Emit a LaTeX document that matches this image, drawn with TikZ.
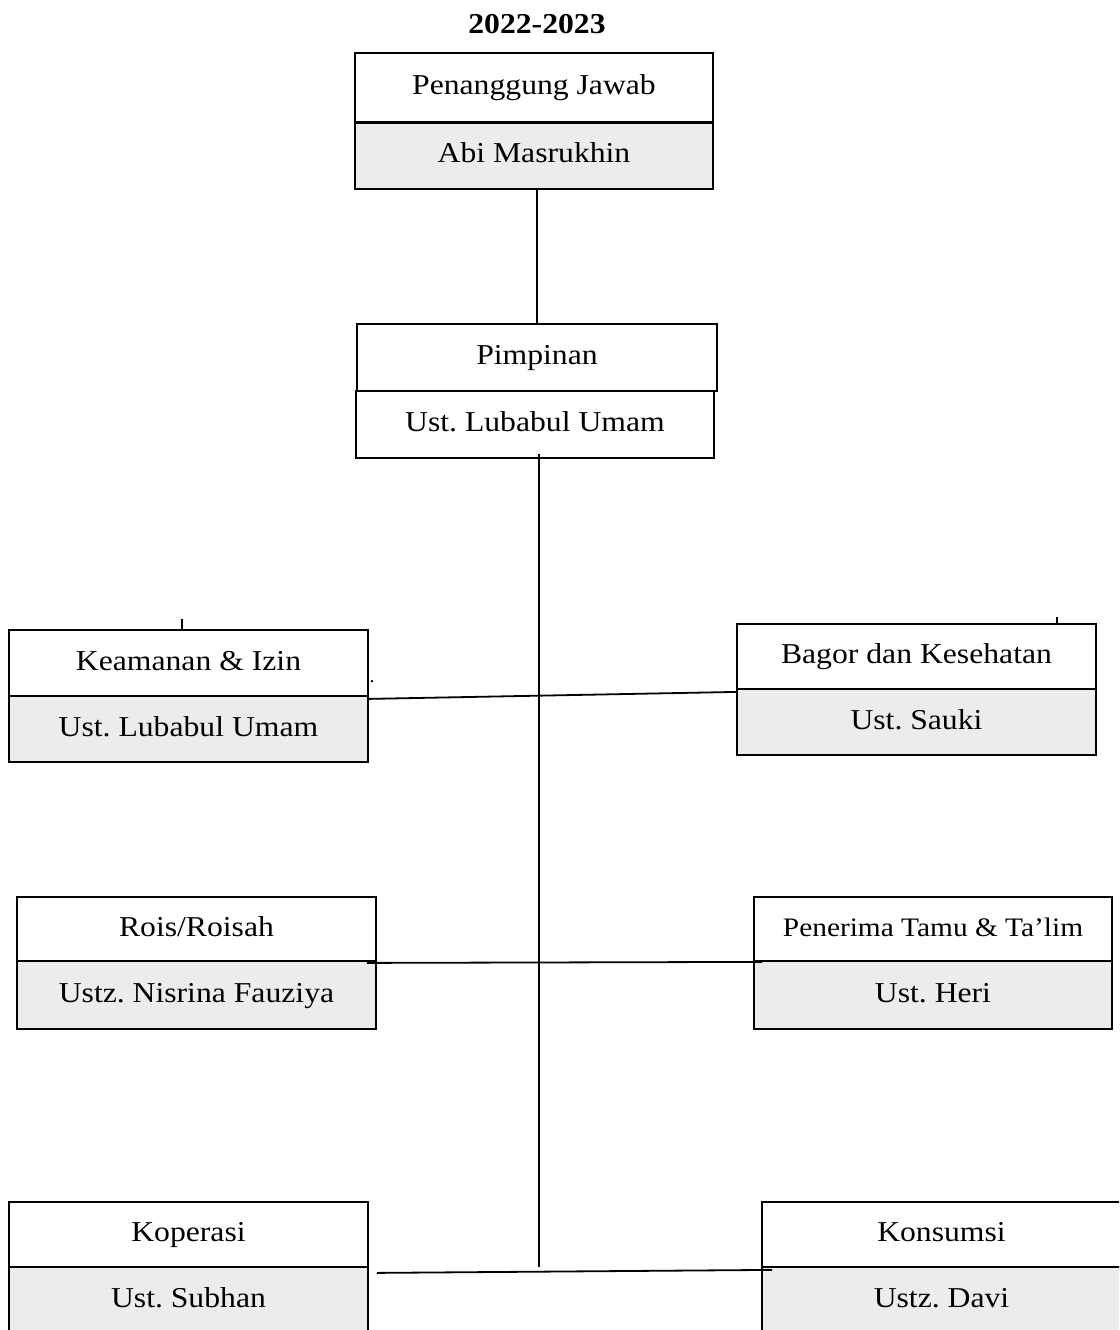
\documentclass[tikz,border=0pt]{standalone}
\usepackage{fontspec}
\setmainfont{Liberation Serif}[FakeStretch=1.1]
\definecolor{cellgray}{RGB}{236,236,236}
\frenchspacing
\tikzset{
  cell/.style={draw, line width=1.8pt, inner sep=0pt, align=center,
    font=\fontsize{28.8}{34}\selectfont, text height=20pt, text depth=6pt},
  headcell/.style={cell, fill=white},
  namecell/.style={cell, fill=cellgray},
  link/.style={line width=1.8pt},
}
\begin{document}
\begin{tikzpicture}[x=1pt,y=-1pt]
\useasboundingbox (0,0) rectangle (1119,1330);
\clip (0,0) rectangle (1119,1330);

\node[font=\bfseries\fontsize{28.8}{34}\selectfont] (title) at (537,24) {2022-2023};

% Penanggung Jawab
\node[namecell, minimum width=358pt, minimum height=67pt] (pjb) at (534,155.5) {Abi Masrukhin};
\node[headcell, minimum width=358pt, minimum height=69pt] (pjt) at (534,87.5) {Penanggung Jawab};
\draw[line width=2.8pt] (pjt.south west) -- (pjt.south east);

% Pimpinan
\node[headcell, minimum width=358pt, minimum height=67pt] (pib) at (535,424.5) {Ust. Lubabul Umam};
\node[headcell, minimum width=360pt, minimum height=67pt] (pit) at (537,357.5) {Pimpinan};

% Keamanan
\node[namecell, minimum width=359pt, minimum height=66pt] (kab) at (188.5,729) {Ust. Lubabul Umam};
\node[headcell, minimum width=359pt, minimum height=66pt] (kat) at (188.5,663) {Keamanan \& Izin};

% Bagor
\node[namecell, minimum width=359pt, minimum height=66pt] (bab) at (916.5,722) {Ust. Sauki};
\node[headcell, minimum width=359pt, minimum height=65pt] (bat) at (916.5,656.5) {Bagor dan Kesehatan};

% Rois
\node[namecell, minimum width=359pt, minimum height=68pt] (rob) at (196.5,995) {Ustz. Nisrina Fauziya};
\node[headcell, minimum width=359pt, minimum height=64pt] (rot) at (196.5,929) {Rois/Roisah};

% Penerima
\node[namecell, minimum width=358pt, minimum height=68pt] (peb) at (933,995) {Ust. Heri};
\node[headcell, minimum width=358pt, minimum height=64pt, font=\fontsize{26.7}{32}\selectfont] (pet) at (933,929) {Penerima Tamu \& Ta’lim};

% Koperasi
\node[namecell, minimum width=359pt, minimum height=66pt] (kob) at (188.5,1300) {Ust. Subhan};
\node[headcell, minimum width=359pt, minimum height=65pt] (kot) at (188.5,1234.5) {Koperasi};

% Konsumsi
\node[namecell, minimum width=359pt, minimum height=66pt] (ksb) at (941.5,1300) {Ustz. Davi};
\node[headcell, minimum width=359pt, minimum height=65pt] (kst) at (941.5,1234.5) {Konsumsi};

% connectors
\draw[link] (pit.north |- pjb.south) -- (pit.north);
\coordinate (vtop) at ([xshift=4pt,yshift=5pt]pib.south);
\coordinate (vbot) at (539,1267);
\draw[link] (vtop) -- (vbot);
\draw[link] ([yshift=-2pt]kat.south east) -- ([xshift=1pt,yshift=-2pt]bat.south west);
\draw[link] ([xshift=-10pt,yshift=-1pt]rot.south east) -- ([xshift=9pt]pet.south west);
\draw[link] ([xshift=8pt,yshift=-5pt]kot.south east) -- ([xshift=11pt,yshift=-2pt]kst.south west);

% small ticks
\draw[link] ([xshift=-6.5pt]kat.north) -- ++(0,-10);
\draw[link] ([xshift=140.5pt]bat.north) -- ++(0,-6);
\fill ([xshift=3pt,yshift=-52pt]kat.north east) circle (1.3pt);
\end{tikzpicture}
\end{document}
